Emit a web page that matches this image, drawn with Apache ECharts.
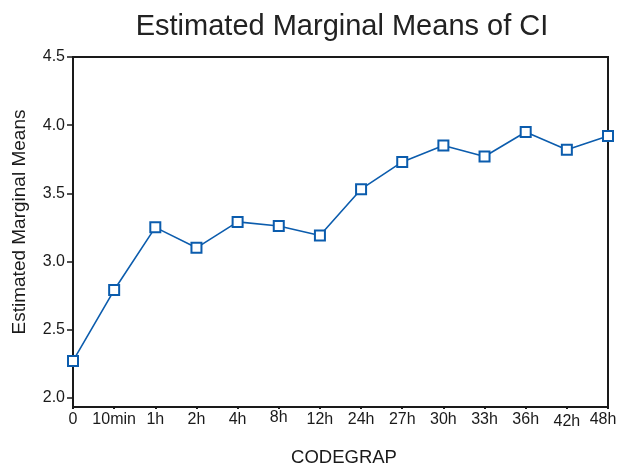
<!DOCTYPE html>
<html>
<head>
<meta charset="utf-8">
<title>Estimated Marginal Means of CI</title>
<script src="https://cdn.jsdelivr.net/npm/echarts@6/dist/echarts.min.js"></script>
<style>
  html, body { margin: 0; padding: 0; background: #ffffff; }
  #chart { width: 619px; height: 464px; }
</style>
</head>
<body>
<div id="chart"></div>
<script>
// Time points of CODEGRAP
const categories = ['0', '10min', '1h', '2h', '4h', '8h', '12h', '24h', '27h', '30h', '33h', '36h', '42h', '48h'];
// Estimated marginal means of CI at each time point
const means = [2.27, 2.79, 3.25, 3.10, 3.29, 3.26, 3.19, 3.53, 3.73, 3.85, 3.77, 3.95, 3.82, 3.92];
// Value-axis tick positions
const yTicks = [2.0, 2.5, 3.0, 3.5, 4.0, 4.5];

const FONT = '"Liberation Sans", Arial, Helvetica, sans-serif';
const INK = '#1a1a1a';
const BLUE = '#0b5cad';

// a few tick labels sit slightly off the common baseline / pulled in from the edge
const labelShiftY = { '8h': -2, '42h': 2 };
const labelPullLeft = { '48h': 10 };

const chart = echarts.init(document.getElementById('chart'), null, { renderer: 'canvas' });

chart.setOption({
  backgroundColor: '#ffffff',
  animation: false,
  title: {
    text: 'Estimated Marginal Means of CI',
    left: 342,
    textAlign: 'center',
    top: 12,
    padding: 0,
    textStyle: { fontFamily: FONT, fontSize: 29, fontWeight: 'normal', color: '#222222' }
  },
  grid: {
    left: 73, right: 11, top: 57, bottom: 57,
    outerBoundsMode: 'none',
    containLabel: false,
    show: true, borderColor: INK, borderWidth: 2, backgroundColor: 'transparent'
  },
  xAxis: {
    type: 'category',
    data: categories.map(c => ({
      value: c,
      textStyle: { padding: [2 + (labelShiftY[c] || 0), labelPullLeft[c] || 0, 0, 0] }
    })),
    boundaryGap: false,
    name: 'CODEGRAP',
    nameLocation: 'middle',
    nameGap: 41,
    nameTextStyle: { fontFamily: FONT, fontSize: 18.5, color: INK, padding: [0, 0, 0, 7] },
    axisLine: { show: true, lineStyle: { color: INK, width: 2 } },
    axisTick: { show: true, inside: false, length: 2, alignWithLabel: true, lineStyle: { color: INK, width: 2 } },
    axisLabel: { margin: 3, fontFamily: FONT, fontSize: 16, color: INK, interval: 0 },
    splitLine: { show: false }
  },
  yAxis: {
    type: 'value',
    min: 1.932,
    max: 4.5,
    name: 'Estimated Marginal Means',
    nameLocation: 'middle',
    nameGap: 44,
    nameRotate: 90,
    nameTextStyle: { fontFamily: FONT, fontSize: 19, color: INK, padding: [0, 0, 0, 20] },
    axisLine: { show: true, lineStyle: { color: INK, width: 2 } },
    axisTick: { show: true, length: 6, customValues: yTicks, lineStyle: { color: INK, width: 1.5 } },
    axisLabel: {
      margin: 8, fontFamily: FONT, fontSize: 16, color: INK,
      customValues: yTicks,
      formatter: v => Number(v).toFixed(1)
    },
    splitLine: { show: false }
  },
  series: [{
    type: 'line',
    data: means,
    symbol: 'emptyRect',
    symbolSize: 10,
    showAllSymbol: true,
    clip: false,
    lineStyle: { color: BLUE, width: 1.6 },
    itemStyle: { color: BLUE, borderColor: BLUE, borderWidth: 1.8 },
    emphasis: { disabled: true }
  }]
});
</script>
</body>
</html>
